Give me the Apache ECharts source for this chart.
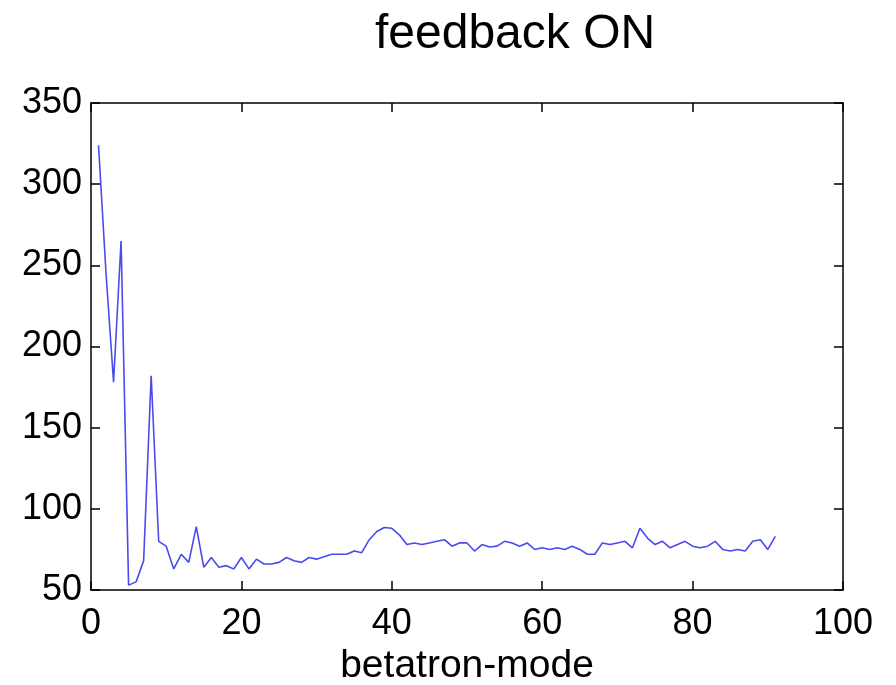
<!DOCTYPE html>
<html>
<head>
<meta charset="utf-8">
<script src="https://cdn.jsdelivr.net/npm/echarts@6/dist/echarts.min.js"></script>
<style>
  html, body { margin: 0; padding: 0; background: #fff; }
  #main { width: 896px; height: 685px; }
</style>
</head>
<body>
<div id="main"></div>
<script>
// betatron mode numbers (x) and amplitude (y)
let modes = [];
for (let i = 1; i <= 91; i++) modes.push(i);
let amplitude = [
  324, 245, 178, 265, 53, 55, 68, 182, 80, 77,
  63, 72, 67, 89, 64, 70, 64, 65, 63, 70,
  63, 69, 66, 66, 67, 70, 68, 67, 70, 69,
  70.5, 72, 72, 72, 74, 73, 81, 86, 88.5, 88,
  84, 78, 79, 78, 79, 80, 81, 77, 79, 79,
  74, 78, 76.5, 77, 80, 79, 77, 79, 75, 76,
  75, 76, 75, 77, 75, 72, 72, 79, 78, 79,
  80, 76, 88, 82, 78, 80, 76, 78, 80, 77,
  76, 77, 80, 75, 74, 75, 74, 80, 81, 75,
  83
];
let xTicks = [0, 20, 40, 60, 80, 100];
let yTicks = [50, 100, 150, 200, 250, 300, 350];

let chart = echarts.init(document.getElementById('main'), null, { renderer: 'canvas' });

let points = [];
for (let i = 0; i < modes.length; i++) {
  points.push([modes[i], amplitude[i]]);
}

const fontName = 'Liberation Sans, Arial, sans-serif';
// box axes like matlab: ticks inside on all four sides
const boxLine = { show: true, onZero: false, lineStyle: { color: '#000', width: 1.5 } };
const boxTick = { show: true, inside: true, length: 9, lineStyle: { color: '#000', width: 1.5 } };

const option = {
  animation: false,
  backgroundColor: '#fff',
  title: {
    text: 'feedback ON',
    left: 370,
    top: 6,
    textStyle: { fontFamily: fontName, fontSize: 48, fontWeight: 'normal', color: '#000' }
  },
  grid: { left: 91, right: 53, top: 103, bottom: 95, outerBoundsMode: 'none', containLabel: false },
  xAxis: [
    {
      type: 'value',
      min: xTicks[0],
      max: xTicks[xTicks.length - 1],
      interval: 20,
      position: 'bottom',
      name: 'betatron-mode',
      nameLocation: 'middle',
      nameGap: 54,
      nameTextStyle: { fontFamily: fontName, fontSize: 39, color: '#000' },
      axisLine: boxLine,
      axisTick: boxTick,
      splitLine: { show: false },
      axisLabel: { fontFamily: fontName, fontSize: 36, color: '#000', margin: 16 }
    },
    {
      type: 'value',
      min: xTicks[0],
      max: xTicks[xTicks.length - 1],
      interval: 20,
      position: 'top',
      axisLine: boxLine,
      axisTick: boxTick,
      splitLine: { show: false },
      axisLabel: { show: false }
    }
  ],
  yAxis: [
    {
      type: 'value',
      min: yTicks[0],
      max: yTicks[yTicks.length - 1],
      interval: 50,
      position: 'left',
      axisLine: boxLine,
      axisTick: boxTick,
      splitLine: { show: false },
      axisLabel: { fontFamily: fontName, fontSize: 36, color: '#000', margin: 9 }
    },
    {
      type: 'value',
      min: yTicks[0],
      max: yTicks[yTicks.length - 1],
      interval: 50,
      position: 'right',
      axisLine: boxLine,
      axisTick: boxTick,
      splitLine: { show: false },
      axisLabel: { show: false }
    }
  ],
  series: [
    {
      type: 'line',
      data: points,
      xAxisIndex: 0,
      yAxisIndex: 0,
      showSymbol: false,
      symbol: 'none',
      lineStyle: { color: '#4a4aee', width: 1.6 }
    }
  ]
};
chart.setOption(option);
</script>
</body>
</html>
